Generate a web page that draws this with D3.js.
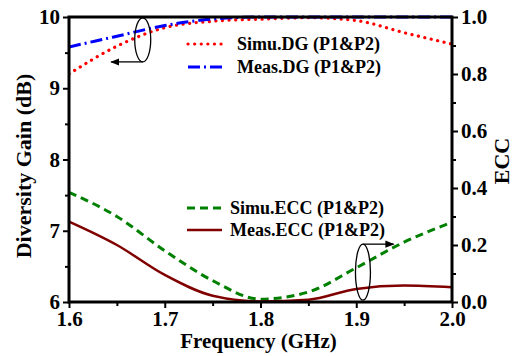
<!DOCTYPE html>
<html>
<head>
<meta charset="utf-8">
<script src="https://cdn.jsdelivr.net/npm/d3@7"></script>
<style>
  body { margin: 0; background: white; }
</style>
</head>
<body>
<div class="chart"></div>
<script>
// frequency points (GHz)
var freq = [1.6, 1.65, 1.7, 1.75, 1.8, 1.85, 1.9, 1.95, 2.0];
// diversity gain (dB)
var simuDG = [9.2, 9.59, 9.85, 9.94, 9.97, 9.99, 9.95, 9.78, 9.62];
var measDG = [9.58, 9.73, 9.88, 9.97, 10.0, 10.0, 10.0, 10.0, 10.0];
// envelope correlation coefficient
var simuECC = [0.385, 0.30, 0.18, 0.075, 0.01, 0.035, 0.12, 0.21, 0.28];
var measECC = [0.282, 0.20, 0.095, 0.022, 0.002, 0.008, 0.046, 0.058, 0.052];

var xTicks = [1.6, 1.7, 1.8, 1.9, 2.0];
var dgTicks = [6, 7, 8, 9, 10];
var eccTicks = [0.0, 0.2, 0.4, 0.6, 0.8, 1.0];

var series = [
  { name: 'Simu.DG (P1&P2)', values: simuDG, axis: 'dg', color: '#ff0000', dash: '0.1 6.5', width: 3.2 },
  { name: 'Meas.DG (P1&P2)', values: measDG, axis: 'dg', color: '#0000ff', dash: '12 4 2 4', width: 3 },
  { name: 'Simu.ECC (P1&P2)', values: simuECC, axis: 'ecc', color: '#008000', dash: '8 5', width: 3 },
  { name: 'Meas.ECC (P1&P2)', values: measECC, axis: 'ecc', color: '#800000', dash: null, width: 2.5 }
];

var FONT = "'Liberation Serif'";
var W = 516, H = 356;
var m = { left: 69, right: 64, top: 17, bottom: 54 };

var svg = d3.select('.chart')
  .append('svg')
    .attr('width', W)
    .attr('height', H)
    .style('background', 'white');

var x = d3.scaleLinear().domain([1.6, 2.0]).range([m.left, W - m.right]);
var yDG = d3.scaleLinear().domain([6, 10]).range([H - m.bottom, m.top]);
var yECC = d3.scaleLinear().domain([0, 1]).range([H - m.bottom, m.top]);

var defs = svg.append('defs');
defs.append('clipPath').attr('id', 'plot')
  .append('rect')
    .attr('x', m.left).attr('y', m.top - 2)
    .attr('width', W - m.left - m.right).attr('height', H - m.top - m.bottom + 2);

// curves
var g = svg.append('g').attr('clip-path', 'url(#plot)');
series.forEach(function(s) {
  var ys = s.axis === 'dg' ? yDG : yECC;
  var line = d3.line()
    .x(function(d, i) { return x(freq[i]); })
    .y(function(d) { return ys(d); })
    .curve(d3.curveMonotoneX);
  g.append('path')
    .attr('d', line(s.values))
    .attr('fill', 'none')
    .attr('stroke', s.color)
    .attr('stroke-width', s.width)
    .attr('stroke-linecap', s.dash === '0.1 6.5' ? 'round' : 'butt')
    .attr('stroke-dasharray', s.dash);
});

// axes
function styleAxis(sel) {
  sel.attr('font-family', null);
  sel.select('.domain').remove();
  sel.selectAll('.tick line').attr('stroke', 'black').attr('stroke-width', 2);
  sel.selectAll('.tick text')
    .style('font-family', FONT)
    .style('font-weight', 'bold')
    .style('font-size', '21px')
    .attr('fill', 'black');
}
var xMinor = [1.65, 1.75, 1.85, 1.95];
var dgMinor = [6.5, 7.5, 8.5, 9.5];
var eccMinor = [0.1, 0.3, 0.5, 0.7, 0.9];

svg.append('g')
  .attr('transform', 'translate(0,' + (H - m.bottom) + ')')
  .call(d3.axisBottom(x).tickValues(xTicks).tickFormat(d3.format('.1f')).tickSize(6).tickPadding(3))
  .call(styleAxis);
svg.append('g')
  .attr('transform', 'translate(0,' + (H - m.bottom) + ')')
  .call(d3.axisBottom(x).tickValues(xMinor).tickFormat('').tickSize(4))
  .call(styleAxis);

svg.append('g')
  .attr('transform', 'translate(' + m.left + ',0)')
  .call(d3.axisLeft(yDG).tickValues(dgTicks).tickFormat(d3.format('d')).tickSize(6).tickPadding(3))
  .call(styleAxis);
svg.append('g')
  .attr('transform', 'translate(' + m.left + ',0)')
  .call(d3.axisLeft(yDG).tickValues(dgMinor).tickFormat('').tickSize(4))
  .call(styleAxis);

svg.append('g')
  .attr('transform', 'translate(' + (W - m.right) + ',0)')
  .call(d3.axisRight(yECC).tickValues(eccTicks).tickFormat(d3.format('.1f')).tickSize(6).tickPadding(3))
  .call(styleAxis);
svg.append('g')
  .attr('transform', 'translate(' + (W - m.right) + ',0)')
  .call(d3.axisRight(yECC).tickValues(eccMinor).tickFormat('').tickSize(4))
  .call(styleAxis);

// frame
svg.append('rect')
  .attr('x', m.left).attr('y', m.top)
  .attr('width', W - m.left - m.right).attr('height', H - m.top - m.bottom)
  .attr('fill', 'none').attr('stroke', 'black').attr('stroke-width', 3);

function label(sel, size) {
  return sel.style('font-family', FONT).style('font-weight', 'bold').style('font-size', size + 'px');
}

// axis titles
svg.append('text')
  .attr('x', (m.left + W - m.right) / 2 - 2).attr('y', 348)
  .attr('text-anchor', 'middle')
  .call(label, 21)
  .text('Frequency (GHz)');
svg.append('text')
  .attr('transform', 'translate(31,166) rotate(-90)')
  .attr('text-anchor', 'middle')
  .call(label, 22)
  .text('Diversity Gain (dB)');
svg.append('text')
  .attr('transform', 'translate(509,161) rotate(-90)')
  .attr('text-anchor', 'middle')
  .call(label, 22)
  .text('ECC');

// legends
var legendPos = [
  { x1: 188, x2: 226, y: 44, tx: 237 },
  { x1: 188, x2: 226, y: 67, tx: 237 },
  { x1: 187, x2: 222, y: 208, tx: 230 },
  { x1: 187, x2: 222, y: 230, tx: 230 }
];
series.forEach(function(s, i) {
  var p = legendPos[i];
  svg.append('line')
    .attr('x1', p.x1).attr('x2', p.x2).attr('y1', p.y).attr('y2', p.y)
    .attr('stroke', s.color).attr('stroke-width', s.width)
    .attr('stroke-linecap', s.dash === '0.1 6.5' ? 'round' : 'butt')
    .attr('stroke-dasharray', s.dash);
  svg.append('text')
    .attr('x', p.tx).attr('y', p.y + 6)
    .call(label, 18)
    .text(s.name);
});

// ellipse + arrow annotations
defs.append('marker')
  .attr('id', 'arrow').attr('viewBox', '0 0 10 10')
  .attr('refX', 9).attr('refY', 5)
  .attr('markerWidth', 7).attr('markerHeight', 7)
  .attr('orient', 'auto-start-reverse')
  .append('path').attr('d', 'M0,1 L10,5 L0,9 Z').attr('fill', 'black');

svg.append('ellipse')
  .attr('cx', x(1.677)).attr('cy', yDG(9.68))
  .attr('rx', 8).attr('ry', 22)
  .attr('fill', 'none').attr('stroke', 'black').attr('stroke-width', 1.3);
svg.append('line')
  .attr('x1', x(1.677)).attr('y1', yDG(9.37))
  .attr('x2', x(1.644)).attr('y2', yDG(9.37))
  .attr('stroke', 'black').attr('stroke-width', 1.3)
  .attr('marker-end', 'url(#arrow)');

svg.append('ellipse')
  .attr('cx', x(1.907)).attr('cy', yECC(0.105))
  .attr('rx', 7.5).attr('ry', 28)
  .attr('fill', 'none').attr('stroke', 'black').attr('stroke-width', 1.3);
svg.append('line')
  .attr('x1', x(1.907)).attr('y1', yECC(0.203))
  .attr('x2', x(1.939)).attr('y2', yECC(0.203))
  .attr('stroke', 'black').attr('stroke-width', 1.3)
  .attr('marker-end', 'url(#arrow)');
</script>
</body>
</html>
